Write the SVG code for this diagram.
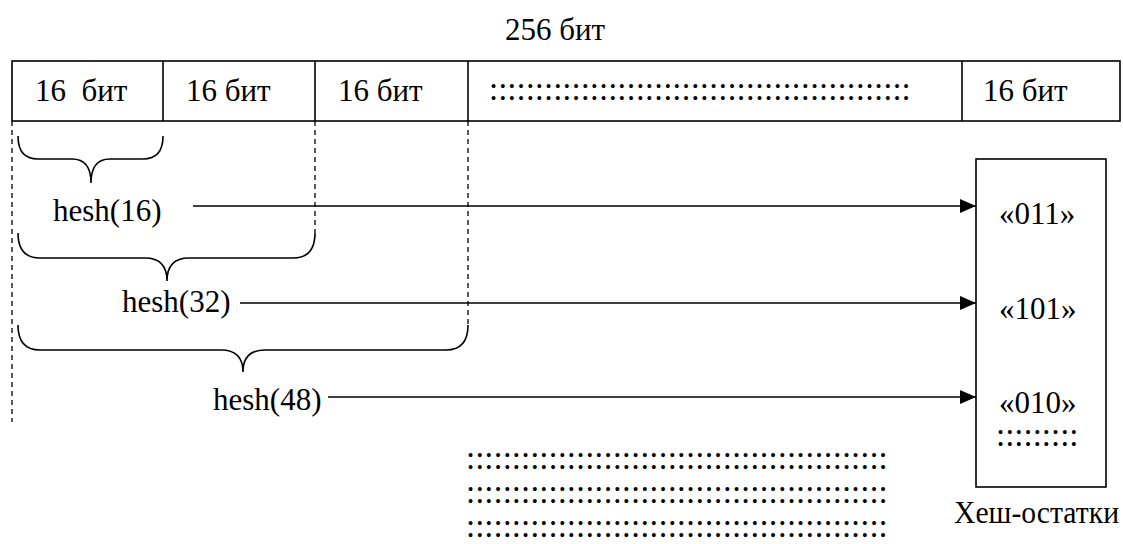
<svg xmlns="http://www.w3.org/2000/svg" width="1123" height="544" viewBox="0 0 1123 544">
<defs>
<style>
.t{font-family:'Liberation Serif','Times New Roman',serif;font-size:31px;fill:#000}
.d{font-family:'Liberation Serif','Times New Roman',serif;font-size:33px;fill:#000}
.ln{stroke:#000;stroke-width:1.6;fill:none}
.dash{stroke:#000;stroke-width:1.3;stroke-dasharray:5,4;fill:none}
.arr{stroke:#000;stroke-width:1.6;fill:none;marker-end:url(#ah)}
</style>
<marker id="ah" markerWidth="16" markerHeight="14" refX="16" refY="7" orient="auto" markerUnits="userSpaceOnUse">
<path d="M0,0 L16,7 L0,14 Z" fill="#000"/>
</marker>
</defs>
<rect width="1123" height="544" fill="#fff"/>
<g id="title"><text class="t" x="555" y="40" text-anchor="middle">256 бит</text></g>
<g id="register">
<rect class="ln" x="12" y="61" width="1108" height="60"/>
<line class="ln" x1="163" y1="61" x2="163" y2="121"/>
<line class="ln" x1="315" y1="61" x2="315" y2="121"/>
<line class="ln" x1="468" y1="61" x2="468" y2="121"/>
<line class="ln" x1="962" y1="61" x2="962" y2="121"/>
<text class="t" x="35" y="101">16&#160; бит</text>
<text class="t" x="186" y="101">16 бит</text>
<text class="t" x="338" y="101">16 бит</text>
<text class="d" x="489" y="100">::::::::::::::::::::::::::::::::::::::::::::::</text>
<text class="t" x="983" y="101">16 бит</text>
</g>
<g id="guides">
<line class="dash" x1="12" y1="121" x2="12" y2="422"/>
<line class="dash" x1="315" y1="121" x2="315" y2="233"/>
<line class="dash" x1="468" y1="121" x2="468" y2="325"/>
</g>
<g id="brace16">
<path class="ln" d="M18,136 Q18,159 38,159 L72,159 Q91,159 91,183 Q91,159 110,159 L143,159 Q163,159 163,136"/>
<text class="t" x="53" y="221">hesh(16)</text>
</g>
<g id="brace32">
<path class="ln" d="M18,233 Q18,258 40,258 L145,258 Q167,258 167,281 Q167,258 189,258 L293,258 Q315,258 315,233"/>
<text class="t" x="122" y="312">hesh(32)</text>
</g>
<g id="brace48">
<path class="ln" d="M18,325 Q18,350 40,350 L221,350 Q243,350 243,372 Q243,350 265,350 L446,350 Q468,350 468,325"/>
<text class="t" x="213" y="410">hesh(48)</text>
</g>
<g id="remainders">
<rect class="ln" x="976" y="159" width="130" height="328"/>
<text class="t" x="999" y="224">«011»</text>
<text class="t" x="999" y="319">«101»</text>
<text class="t" x="999" y="413">«010»</text>
<text class="d" x="996" y="446">:::::::::</text>
<text class="t" x="954" y="523" textLength="165" lengthAdjust="spacingAndGlyphs">Хеш-остатки</text>
</g>
<g id="fill-dots">
<text class="d" x="466" y="469">::::::::::::::::::::::::::::::::::::::::::::::</text>
<text class="d" x="466" y="503">::::::::::::::::::::::::::::::::::::::::::::::</text>
<text class="d" x="466" y="537">::::::::::::::::::::::::::::::::::::::::::::::</text>
</g>
<g id="connectors">
<line class="arr" x1="193" y1="206" x2="976" y2="206"/>
<line class="arr" x1="240" y1="303" x2="976" y2="303"/>
<line class="arr" x1="328" y1="397" x2="976" y2="397"/>
</g>
</svg>
